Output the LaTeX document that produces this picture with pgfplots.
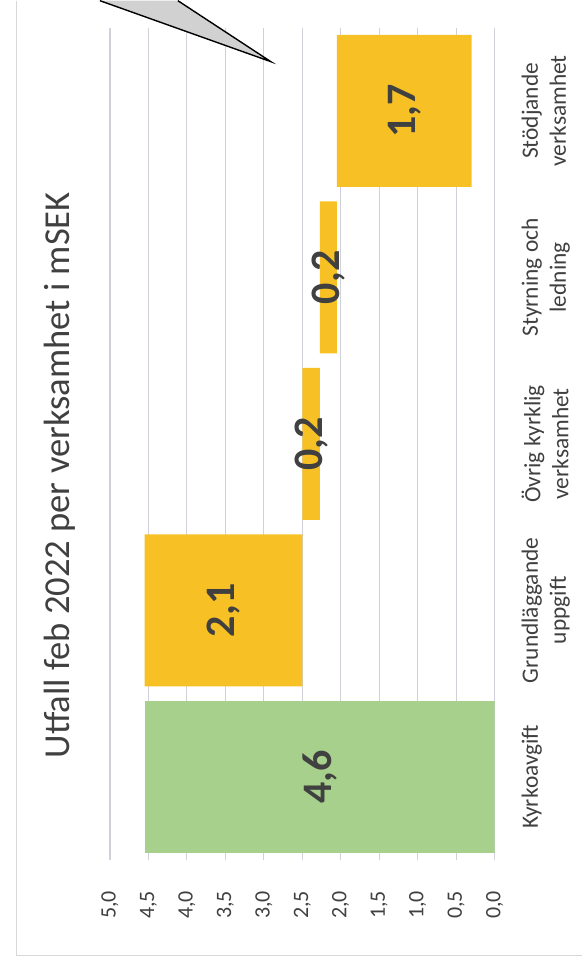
\documentclass[border=0pt]{standalone}
\usepackage{fontspec}
\setmainfont{Carlito}
\usepackage{pgfplots}
\usepackage{pgfplotstable}
\pgfplotsset{compat=1.18}
\definecolor{barGreen}{RGB}{168,208,141}
\definecolor{barYellow}{RGB}{247,193,38}
\definecolor{gridc}{RGB}{208,208,218}
\definecolor{txt}{RGB}{64,64,64}
\definecolor{frame}{RGB}{215,215,215}

% waterfall: invisible base + visible step, label at middle of the step
\pgfplotstableread{
pos base green yellow cen lab
0 0.00 4.55 0.00 2.275 4,6
1 2.50 0.00 2.05 3.525 2,1
2 2.27 0.00 0.23 2.385 0,2
3 2.05 0.00 0.22 2.160 0,2
4 0.30 0.00 1.75 1.175 1,7
}\waterfall

\pgfplotsset{wfaxis/.style={
    at={(55pt,54pt)}, anchor=south west,
    scale only axis, width=192.5pt, height=416.5pt,
    x dir=reverse, xmin=0, xmax=5,
    ymin=-0.5, ymax=4.5,
}}

\begin{document}
\begin{tikzpicture}
\begin{scope}[x=0.5pt,y=0.5pt]
\path[use as bounding box] (0,0) rectangle (582,968);
\draw[frame] (16,968) -- (16,13) -- (582,13);
\end{scope}

\begin{axis}[
    wfaxis,
    xbar stacked, bar width=76pt,
    xtick={0,0.5,...,5},
    ytick={0,1,2,3,4},
    yticklabels={Kyrkoavgift, Grundläggande\\uppgift, Övrig kyrklig\\verksamhet, Styrning och\\ledning, Stödjande\\verksamhet},
    yticklabel pos=right,
    xmajorgrids, grid style={gridc, line width=0.6pt},
    axis line style={draw=none},
    major tick style={draw=none},
    /pgf/number format/.cd, use comma, fixed, fixed zerofill, precision=1, assume math mode=true,
    /pgfplots/.cd,
    xticklabel style={rotate=90, anchor=east, font=\fontsize{11}{11}\selectfont, text=txt},
    xticklabel shift=12pt,
    yticklabel style={rotate=90, anchor=north, align=center, font=\fontsize{11.7}{14}\selectfont, text=txt},
    yticklabel shift=10pt,
]
\addplot[draw=none, fill=none] table[x=base, y=pos] {\waterfall};
\addplot[draw=none, fill=barGreen] table[x=green, y=pos] {\waterfall};
\addplot[draw=none, fill=barYellow] table[x=yellow, y=pos] {\waterfall};
\end{axis}

% value labels in the middle of each step
\begin{axis}[wfaxis, hide axis, clip=false]
\addplot[only marks, mark=none,
    point meta=explicit symbolic, nodes near coords,
    every node near coord/.append style={anchor=center, rotate=90,
        font=\bfseries\fontsize{21}{21}\selectfont, text=txt}]
    table[x=cen, y=pos, meta=lab] {\waterfall};
\end{axis}

\begin{scope}[x=0.5pt,y=0.5pt]
\node[rotate=90, text=txt, font=\fontsize{18.3}{18.3}\selectfont] at (60,493) {Utfall feb 2022 per verksamhet i mSEK};
\filldraw[fill=black!18, draw=black, line width=0.7pt] (100,968) -- (271,907) -- (178,968);
\end{scope}
\end{tikzpicture}
\end{document}
